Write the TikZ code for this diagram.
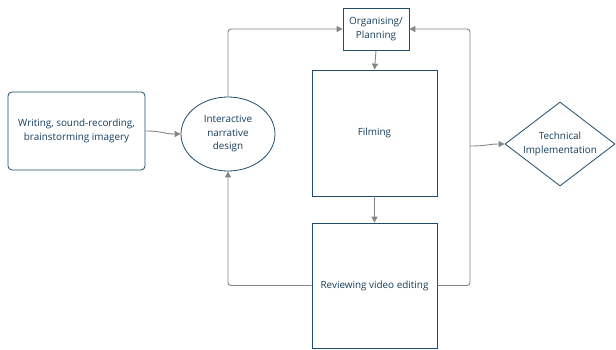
\documentclass[tikz,border=0pt]{standalone}
\usepackage{fontspec}
\setmainfont{Open Sans}
\usetikzlibrary{shapes.geometric,arrows.meta}
\definecolor{nodeblue}{HTML}{1F4D6B}
\definecolor{txtblue}{HTML}{173F5C}
\definecolor{linegray}{HTML}{858585}
\tikzset{
  base/.style={draw=nodeblue, line width=0.8pt, text=txtblue, font=\fontsize{9.9}{13.5}\selectfont, align=center, inner sep=0pt, fill=white},
  rbox/.style={base, rectangle, rounded corners=4pt},
  sbox/.style={base, rectangle},
  ell/.style={base, ellipse},
  dia/.style={base, diamond, aspect=1.31},
  conn/.style={draw=linegray, line width=0.9pt, -{Triangle[length=6pt,width=6pt]}, rounded corners=3pt},
}
\begin{document}
\begin{tikzpicture}[x=1pt,y=-1pt]
\useasboundingbox (0,0) rectangle (616,350);
\node[rbox, minimum width=137pt, minimum height=78pt] (write) at (76.5,131) {Writing, sound-recording,\\brainstorming imagery};
\node[ell, minimum width=94pt, minimum height=74pt] (ind) at (228,134) {Interactive\\narrative\\design};
\node[sbox, minimum width=66pt, minimum height=42pt] (org) at (376,29) {Organising/\\Planning};
\node[sbox, minimum width=125pt, minimum height=126pt] (film) at (374.5,133) {Filming};
\node[sbox, minimum width=125pt, minimum height=125pt] (rev) at (374.5,285.5) {Reviewing video editing};
\node[dia, minimum width=110pt, minimum height=84pt] (tech) at (560,144) {Technical\\Implementation};
\coordinate (rx) at (470,285.5);
\coordinate (j) at (470,146);
\draw[conn] (write.east) .. controls (163,131) and (163,134) .. (ind.west);
\draw[conn] (ind.north) |- (org.west);
\draw[conn] (org.south) -- (film.north);
\draw[conn] (film.south) -- (rev.north);
\draw[conn] (rev.west) -| (ind.south);
\draw[conn] (rev.east) -- (rx) |- (org.east);
\draw[conn] (j) .. controls (488,146) and (488,144) .. (tech.west);
\end{tikzpicture}
\end{document}
